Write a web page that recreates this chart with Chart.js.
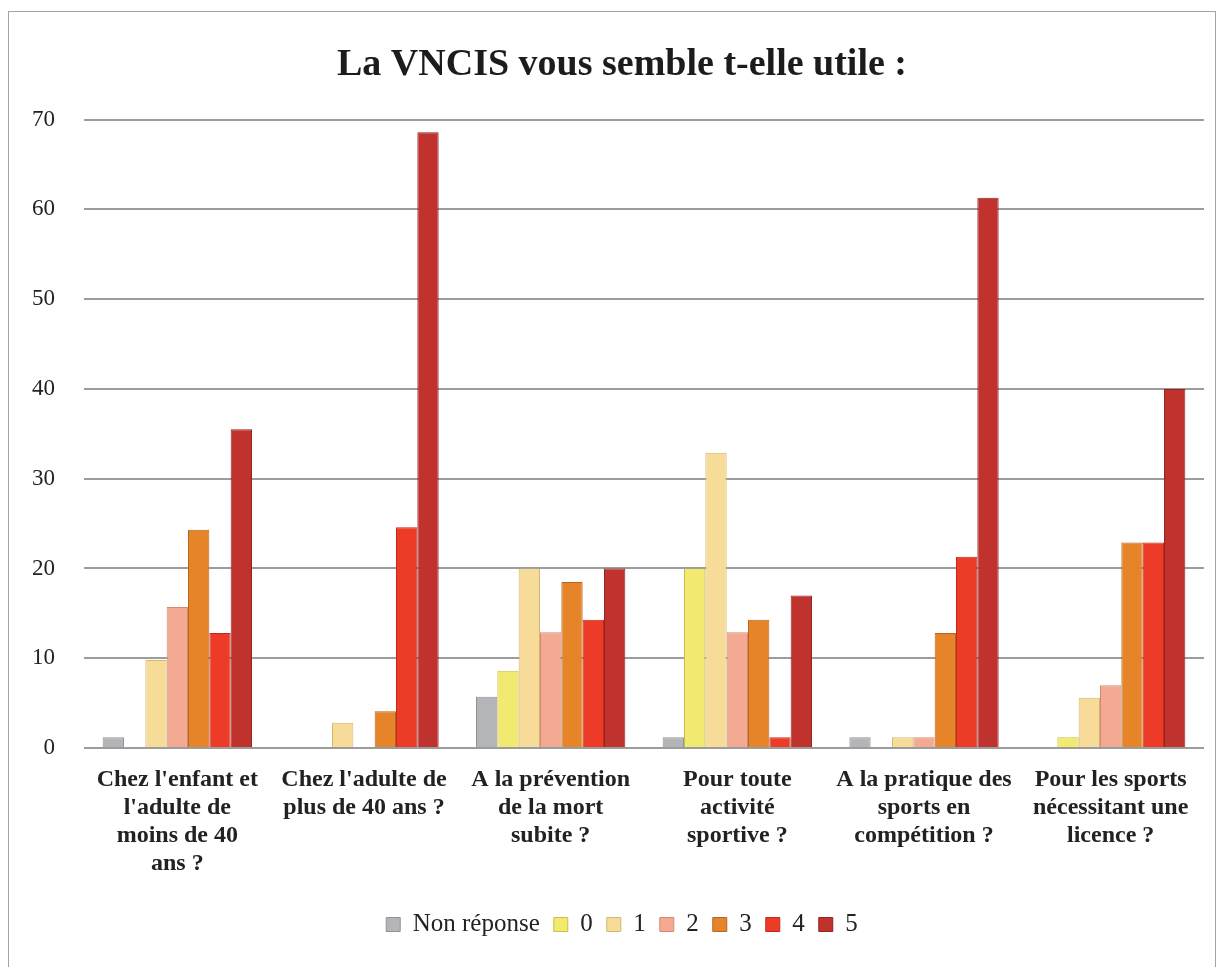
<!DOCTYPE html>
<html lang="fr">
<head>
<meta charset="utf-8">
<title>La VNCIS vous semble t-elle utile</title>
<script src="https://cdn.jsdelivr.net/npm/chart.js@4.4.1/dist/chart.umd.min.js"></script>
<style>
  html, body { margin: 0; padding: 0; background: #fff; overflow: hidden; }
  #frame {
    position: absolute; left: 8px; top: 11px; width: 1208px; height: 1000px;
    border: 1px solid #a3a3a3; box-sizing: border-box;
  }
  #wrap { position: absolute; left: 0; top: 0; width: 1224px; height: 967px; }
</style>
</head>
<body>
<div id="frame"></div>
<div id="wrap"><canvas id="chart"></canvas></div>
<script>
// Données (en %)
const categories = [
  ["Chez l'enfant et", "l'adulte de", "moins de 40", "ans ?"],
  ["Chez l'adulte de", "plus de 40 ans ?"],
  ["A la prévention", "de la mort", "subite ?"],
  ["Pour toute", "activité", "sportive ?"],
  ["A la pratique des", "sports en", "compétition ?"],
  ["Pour les sports", "nécessitant une", "licence ?"]
];
const seriesNames = ['Non réponse', '0', '1', '2', '3', '4', '5'];
const nonReponse = [1.2, 0, 5.7, 1.2, 1.2, 0];
const note0 = [0, 0, 8.6, 20, 0, 1.2];
const note1 = [9.8, 2.8, 20, 32.9, 1.2, 5.6];
const note2 = [15.7, 0, 12.9, 12.9, 1.2, 7];
const note3 = [24.3, 4.1, 18.5, 14.3, 12.8, 22.9];
const note4 = [12.8, 24.6, 14.3, 1.2, 21.3, 22.9];
const note5 = [35.5, 68.6, 20, 17, 61.3, 40];

const fills = ['#b3b5b9', '#f2e971', '#f6dc98', '#f4aa92', '#e6842a', '#ec3b26', '#c0322e'];
const borders = ['#909296', '#cbbf4a', '#d4b872', '#d48a72', '#b8661c', '#c22a18', '#94241f'];

const FONT = "'Liberation Serif', 'DejaVu Serif', serif";

const datasets = [nonReponse, note0, note1, note2, note3, note4, note5].map((values, i) => ({
  label: seriesNames[i],
  data: values,
  backgroundColor: fills[i],
  borderColor: borders[i],
  borderWidth: 1,
  barPercentage: 1,
  categoryPercentage: 0.8
}));

const ctx = document.getElementById('chart').getContext('2d');
new Chart(ctx, {
  type: 'bar',
  data: { labels: categories, datasets },
  options: {
    responsive: true,
    maintainAspectRatio: false,
    animation: false,
    // marge gauche = marge droite (axe vide) pour centrer titre et légende
    layout: { padding: { left: 20, right: 0, top: 20, bottom: 20 } },
    plugins: {
      title: {
        display: true,
        text: 'La VNCIS vous semble t-elle utile :',
        color: '#1c1c1c',
        font: { family: FONT, size: 38, weight: 'bold' },
        padding: { top: 22, bottom: 32 }
      },
      legend: {
        position: 'bottom',
        labels: {
          color: '#222',
          font: { family: FONT, size: 25 },
          boxWidth: 14,
          boxHeight: 14,
          padding: 14
        }
      },
      tooltip: { enabled: false }
    },
    scales: {
      x: {
        grid: { display: false },
        border: { display: false },
        ticks: {
          color: '#222',
          font: { family: FONT, size: 24, weight: 'bold', lineHeight: 1.17 },
          maxRotation: 0,
          autoSkip: false,
          padding: 10
        },
        afterFit(scale) { scale.height = 150; }
      },
      y: {
        min: 0,
        max: 70,
        ticks: {
          stepSize: 10,
          color: '#222',
          font: { family: FONT, size: 23 },
          padding: 29
        },
        grid: { color: '#9c9c9c', lineWidth: 2, drawTicks: false },
        border: { display: false },
        afterFit(scale) { scale.width = 64; }
      },
      yRight: {
        position: 'right',
        min: 0,
        max: 70,
        ticks: { display: false },
        grid: { display: false },
        border: { display: false },
        afterFit(scale) { scale.width = 20; }
      }
    }
  }
});
</script>
</body>
</html>
